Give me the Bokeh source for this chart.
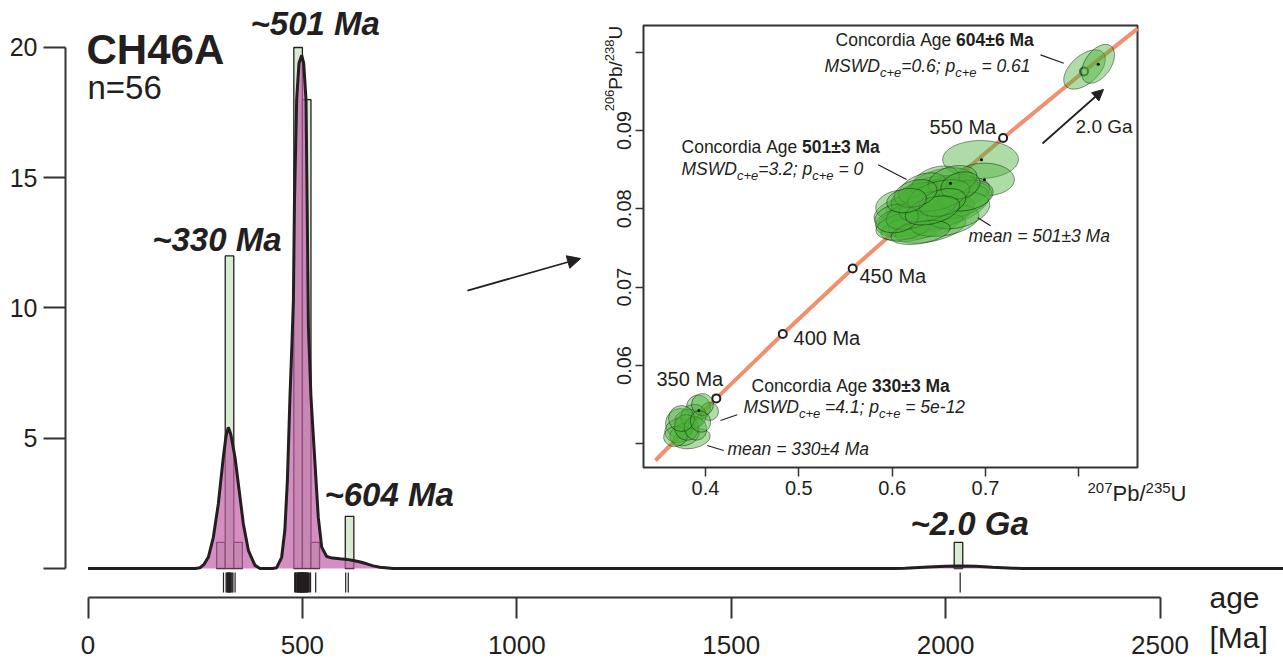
from bokeh.plotting import figure
from bokeh.models import Range1d, LinearAxis, FixedTicker, Arrow, NormalHead
from bokeh.core.properties import value
from bokeh.embed import file_html
from bokeh.resources import INLINE

# ---------------- data: detrital zircon ages (Ma) ----------------
ages = [316,
        322, 324, 325, 327, 328, 329, 330, 331, 332, 334, 336, 338,
        343,
        482, 484, 485, 487, 488, 489, 490, 491, 492, 493, 494, 495, 495, 496, 497, 497, 498, 498, 499, 499,
        500, 501, 501, 502, 503, 503, 504, 505, 506, 507, 508, 509, 510, 511, 512, 514, 516, 519,
        531,
        601, 607,
        2034]
hist_left = [300, 320, 340, 480, 500, 520, 600, 2020]
hist_count = [1, 12, 1, 20, 18, 1, 2, 1]
bin_width = 20

kde_age = [0, 250, 261, 270, 280.6, 292.3, 303.9, 315.6, 322, 327.2, 333, 342.8, 354.5, 362.3, 374.1, 389.5, 401,
           430, 440, 451.6, 459, 465, 471, 476, 479, 481.5, 486.6, 492, 498.4, 503, 508.4, 511, 514, 520, 529.4,
           537, 545, 556.6, 570, 587.7, 604, 618.7, 635, 650, 665, 681, 712,
           1880, 1905, 1960, 2000, 2033, 2070, 2110, 2157, 2180, 2790]
kde_val = [0, 0, 0.03, 0.15, 0.43, 1.2, 2.48, 4.27, 5.1, 5.42, 5.15, 4.27, 2.74, 1.71, 0.69, 0.12, 0,
           0, 0.03, 0.43, 1.46, 3.38, 6.58, 8.8, 10.3, 14.1, 18.0, 19.4, 19.7, 19.4, 18.0, 14.1, 9.3, 6.58, 4.02,
           1.97, 0.82, 0.46, 0.40, 0.37, 0.35, 0.31, 0.25, 0.18, 0.10, 0.05, 0,
           0, 0.01, 0.06, 0.09, 0.10, 0.09, 0.05, 0.01, 0, 0]

age_ticks = [0, 500, 1000, 1500, 2000, 2500]
count_ticks = [0, 5, 10, 15, 20]

peak_text = ["~330 Ma", "~501 Ma", "~604 Ma", "~2.0 Ga"]
peak_age = [149.7, 379.0, 551.5, 1918.1]
peak_count = [12.17, 20.46, 2.38, 1.27]

# ---------------- data: concordia inset ----------------
conc_x = [0.3464, 0.4116, 0.4828, 0.5577, 0.6378, 0.7189, 0.8056, 0.8629]
conc_y = [0.04787, 0.05580, 0.06402, 0.07239, 0.08082, 0.08905, 0.09754, 0.10300]
mark_age = [350, 400, 450, 500, 550, 600]
mark_x = [0.4116, 0.4828, 0.5577, 0.6378, 0.7189, 0.8056]
mark_y = [0.05580, 0.06402, 0.07239, 0.08082, 0.08905, 0.09754]
mark_label = ["350 Ma", "400 Ma", "450 Ma", "", "550 Ma", ""]
mark_lab_x = [0.3475, 0.4943, 0.5650, 0, 0.6400, 0]
mark_lab_y = [0.05732, 0.06255, 0.07047, 0, 0.08949, 0]

# error ellipses: centre (207Pb/235U, 206Pb/238U), full width / height, tilt (deg)
ell_x = [0.3925, 0.4043, 0.3732, 0.3818, 0.3850, 0.3711, 0.3775, 0.3871, 0.3968, 0.3679, 0.3796, 0.3893, 0.3743, 0.3946,
         0.6947, 0.6989, 0.6636, 0.6518, 0.6411, 0.6357, 0.6250, 0.6464, 0.6304, 0.6143, 0.6068, 0.6572, 0.6411,
         0.6218, 0.6089, 0.6357, 0.6518, 0.6679, 0.6604, 0.6464, 0.6218, 0.6411, 0.6282, 0.6122, 0.6325, 0.6561,
         0.6711, 0.6786, 0.6197, 0.6389, 0.6647, 0.6497, 0.6304, 0.6047, 0.6732, 0.6539, 0.6432, 0.6250, 0.6154,
         0.8061, 0.8206]
ell_y = [0.05464, 0.05413, 0.05260, 0.05298, 0.05068, 0.05170, 0.05119, 0.05349, 0.05502, 0.05094, 0.05209, 0.05196, 0.05323, 0.05285,
         0.08630, 0.08374, 0.08183, 0.08285, 0.08209, 0.08106, 0.08043, 0.08132, 0.07979, 0.07953, 0.08043, 0.08043, 0.07915,
         0.07851, 0.07826, 0.07826, 0.07953, 0.08106, 0.08234, 0.08336, 0.07749, 0.07749, 0.08132, 0.07774, 0.08260, 0.07851,
         0.07979, 0.08170, 0.07915, 0.08030, 0.08362, 0.08170, 0.07698, 0.07877, 0.08298, 0.08081, 0.07979, 0.08196, 0.08106,
         0.09779, 0.09851]
ell_w = [0.0257, 0.0193, 0.0321, 0.0300, 0.0407, 0.0300, 0.0321, 0.0279, 0.0236, 0.0257, 0.0257, 0.0236, 0.0279, 0.0214,
         0.0814, 0.0643, 0.0836, 0.0750, 0.0707, 0.0771, 0.0643, 0.0857, 0.0750, 0.0686, 0.0493, 0.0964, 0.0857,
         0.0750, 0.0536, 0.0814, 0.0750, 0.0793, 0.0643, 0.0536, 0.0686, 0.0771, 0.0600, 0.0600, 0.0536, 0.0750,
         0.0686, 0.0600, 0.0536, 0.0643, 0.0536, 0.0686, 0.0643, 0.0471, 0.0429, 0.0514, 0.0600, 0.0471, 0.0429,
         0.0536, 0.0471]
ell_h = [0.00319, 0.00230, 0.00383, 0.00281, 0.00255, 0.00306, 0.00281, 0.00306, 0.00281, 0.00255, 0.00332, 0.00306, 0.00332, 0.00281,
         0.00485, 0.00421, 0.00409, 0.00434, 0.00383, 0.00434, 0.00383, 0.00460, 0.00383, 0.00409, 0.00383, 0.00511, 0.00409,
         0.00383, 0.00357, 0.00383, 0.00383, 0.00434, 0.00383, 0.00383, 0.00306, 0.00332, 0.00383, 0.00332, 0.00357, 0.00383,
         0.00434, 0.00383, 0.00332, 0.00357, 0.00357, 0.00357, 0.00281, 0.00357, 0.00332, 0.00332, 0.00332, 0.00332, 0.00306,
         0.00357, 0.00332]
ell_angle = [20, 0, 0, 10, 10, 20, 15, 30, 30, 10, 20, 30, 20, 30,
             0, 0, 12, 15, 15, 18, 15, 18, 15, 12, 10, 15, 12,
             10, 10, 12, 15, 15, 15, 20, 10, 12, 15, 10, 20, 10,
             15, 10, 15, 15, 15, 15, 10, 10, 15, 15, 15, 15, 10,
             42, 55]
dot_x = [0.6625, 0.6957, 0.6989, 0.8208, 0.3928]
dot_y = [0.08327, 0.08626, 0.08371, 0.09846, 0.05426]

ratio_x_ticks = [0.4, 0.5, 0.6, 0.7, 0.8]
ratio_y_ticks = [0.05, 0.06, 0.07, 0.08, 0.09, 0.10]
box_left, box_right, box_bottom, box_top = 0.33357, 0.86288, 0.04698, 0.10340

# ---------------- styling ----------------
FONT = "Liberation Sans"
INK = "#231f20"
AXC = "#333333"
BAR_FILL = "#d8ecd2"
KDE_FILL = "#c25ea6"
ELL_FILL = "#4cb23a"
CONC = "#f0906e"
PX_MAIN = 26.05      # screen px per count unit (used only to nudge text baselines)
PX_INSET_X = 933.3   # screen px per 207Pb/235U unit
PX_INSET = 7833.0    # screen px per 206Pb/238U unit
LIFT = 0.37          # baseline correction, in em

p = figure(width=1283, height=659,
           x_range=Range1d(-204.06, 2788.0), y_range=Range1d(-3.4933, 21.8042),
           output_backend="svg", toolbar_location=None,
           x_axis_location=None, y_axis_location=None,
           min_border=0, min_border_left=0, min_border_right=0, min_border_top=0, min_border_bottom=0,
           outline_line_color=None, background_fill_color="white", border_fill_color="white")
p.grid.visible = False
p.extra_x_ranges = {"cx": Range1d(-0.35538, 1.01931)}
p.extra_y_ranges = {"cy": Range1d(0.022465, 0.106596)}

def style_axis(ax, size, tick_out, standoff, line=True):
    ax.major_tick_out = tick_out
    ax.major_tick_in = 0
    ax.minor_tick_out = 0
    ax.minor_tick_in = 0
    ax.axis_line_color = AXC if line else None
    ax.axis_line_width = 2
    ax.major_tick_line_color = AXC
    ax.major_tick_line_width = 2 if line else 1.5
    ax.major_label_text_font = FONT
    ax.major_label_text_font_size = size
    ax.major_label_text_color = INK
    ax.major_label_standoff = standoff

# main axes
xa = LinearAxis(fixed_location=-1.113, bounds=(0, 2500), ticker=FixedTicker(ticks=age_ticks))
style_axis(xa, "26px", 21, 18)
p.add_layout(xa, "below")
ya = LinearAxis(fixed_location=-52.5, bounds=(0, 20), ticker=FixedTicker(ticks=count_ticks),
                major_label_overrides={0: ""})
style_axis(ya, "25px", 22, 6)
p.add_layout(ya, "left")

# histogram, KDE and rug
p.quad(left=hist_left, right=[v + bin_width for v in hist_left], bottom=0, top=hist_count,
       fill_color=BAR_FILL, line_color=INK, line_width=1.3)
p.varea(x=kde_age, y1=[0] * len(kde_age), y2=kde_val, fill_color=KDE_FILL, fill_alpha=0.7)
p.line(kde_age, kde_val, line_color=INK, line_width=3)
p.segment(x0=ages, y0=-0.15, x1=ages, y1=-0.92, line_color=INK, line_width=1.2)

def txt(x, y, s, size, style="normal", align="left", rng=False, angle=0, baseline="alphabetic", off=0, lift=True):
    kw = {}
    if rng:
        kw = dict(x_range_name="cx", y_range_name="cy")
    if lift:
        y = y + LIFT * size / (PX_INSET if rng else PX_MAIN)
    p.text(x=[x], y=[y], text=[s], text_font=value(FONT), text_font_size=f"{size}px",
           text_font_style=style, text_align=align, text_baseline=baseline, text_color=INK,
           angle=angle, angle_units="deg", x_offset=off, **kw)

for t, a, c in zip(peak_text, peak_age, peak_count):
    txt(a, c, t, 33, "bold italic")
txt(-3.5, 19.31, "CH46A", 42, "bold")
txt(-1.2, 18.0, "n=56", 33)
txt(2615.4, -1.536, "age", 30)
txt(2615.4, -3.071, "[Ma]", 30)

p.add_layout(Arrow(end=NormalHead(size=13, fill_color=INK, line_color=INK),
                   x_start=885.0, y_start=10.67, x_end=1148.6, y_end=11.9,
                   line_color=INK, line_width=1.8))

# ---------------- concordia inset ----------------
R = dict(x_range_name="cx", y_range_name="cy")
p.quad(left=box_left, right=box_right, bottom=box_bottom, top=box_top,
       fill_color=None, line_color=AXC, line_width=2, **R)
ix = LinearAxis(fixed_location=box_bottom, ticker=FixedTicker(ticks=ratio_x_ticks),
                major_label_overrides={0.8: ""}, **R)
style_axis(ix, "20px", 9, 5, line=False)
p.add_layout(ix, "below")
iy = LinearAxis(fixed_location=box_left, ticker=FixedTicker(ticks=ratio_y_ticks),
                major_label_overrides={0.05: "", 0.1: ""}, major_label_orientation="vertical", **R)
style_axis(iy, "20px", 8, 4, line=False)
p.add_layout(iy, "left")

p.line(conc_x, conc_y, line_color=CONC, line_width=4, **R)
p.scatter(mark_x, mark_y, size=8, marker="circle", fill_color="white", line_color=INK, line_width=2, **R)
p.ellipse(x=ell_x, y=ell_y, width=ell_w, height=ell_h, angle=ell_angle, angle_units="deg",
          fill_color=ELL_FILL, fill_alpha=0.45, line_color="black", line_width=0.6, line_alpha=0.7, **R)
p.scatter(dot_x, dot_y, size=3, marker="circle", fill_color="black", line_color=None, **R)

for lab, lx, ly in zip(mark_label, mark_lab_x, mark_lab_y):
    if lab:
        txt(lx, ly, lab, 20, rng=True)
txt(0.7965, 0.08962, "2.0 Ga", 19, rng=True)

p.add_layout(Arrow(end=NormalHead(size=11, fill_color=INK, line_color=INK),
                   x_start=0.7611, y_start=0.08834, x_end=0.8264, y_end=0.09523,
                   line_color=INK, line_width=1.8, **R))

# leader lines
lead_x0 = [0.5850, 0.7590, 0.6918, 0.4161, 0.4018]
lead_y0 = [0.08562, 0.09966, 0.07886, 0.05298, 0.04979]
lead_x1 = [0.6154, 0.7839, 0.7054, 0.4340, 0.4196]
lead_y1 = [0.08374, 0.09859, 0.07783, 0.05371, 0.04915]
p.segment(x0=lead_x1, y0=lead_y1, x1=lead_x0, y1=lead_y0, line_color=INK, line_width=1.2, **R)

NB = "\u00a0"
WID = {' ': 278, NB: 278, '+': 584, '.': 278, ';': 278, '=': 584, '\u00b1': 584, '-': 333, '/': 278,
       'A': 667, 'C': 722, 'D': 722, 'G': 778, 'M': 833, 'P': 667, 'S': 667, 'U': 722, 'W': 944,
       'a': 556, 'b': 556, 'c': 500, 'd': 556, 'e': 556, 'g': 556, 'i': 222, 'n': 556, 'o': 556,
       'p': 556, 'r': 333, 'm': 833}

def tw(s, size):
    return sum(WID.get(ch, 556) for ch in s) * size / 1000.0

def rich(x, y, pieces):
    """pieces: (text, style, size, shift_px) ; shift_px > 0 raises the piece"""
    off = 0.0
    for s, style, size, shift in pieces:
        txt(x, y + shift / PX_INSET, s, size, style, rng=True, off=off)
        off += tw(s, size)

def rich_up(xc, yc, pieces):
    """vertical text read bottom-to-top, centred on (xc, yc); shift_px > 0 moves left (raised)"""
    total = sum(tw(s, size) for s, _, size, _ in pieces)
    ycur = yc - total / 2 / PX_INSET
    for s, style, size, shift in pieces:
        txt(xc - shift / PX_INSET_X, ycur, s, size, style, rng=True, angle=90, baseline="middle", lift=False)
        ycur += tw(s, size) / PX_INSET

F, S = 17.5, 13
def concordia_block(x, y, age, mswd_mid, p_end, mean_xy=None, mean_txt=None):
    rich(x[0], y[0], [("Concordia" + NB + "Age" + NB, "normal", F, 0), (age, "bold", F, 0)])
    rich(x[1], y[1], [("MSWD", "italic", F, 0), ("c+e", "italic", S, -5),
                      (mswd_mid, "italic", F, 0), ("c+e", "italic", S, -5),
                      (p_end, "italic", F, 0)])
    if mean_txt:
        txt(mean_xy[0], mean_xy[1], mean_txt, F, "italic", rng=True)

concordia_block((0.5393, 0.5275), (0.10072, 0.09744), "604\u00b16" + NB + "Ma", "=0.6;" + NB + "p", NB + "=" + NB + "0.61")
concordia_block((0.3743, 0.3743), (0.0871, 0.08426), "501\u00b13" + NB + "Ma", "=3.2;" + NB + "p", NB + "=" + NB + "0",
                (0.6818, 0.07570), "mean = 501\u00b13 Ma")
concordia_block((0.4493, 0.4407), (0.05659, 0.05387), "330\u00b13" + NB + "Ma", NB + "=4.1;" + NB + "p", NB + "=" + NB + "5e-12",
                (0.4236, 0.04851), "mean = 330\u00b14 Ma")

# axis titles of the inset (isotope ratios with superscript mass numbers)
rich(0.8093, 0.04264, [("207", "normal", 15, 8), ("Pb/", "normal", 22, 0), ("235", "normal", 15, 8), ("U", "normal", 22, 0)])
rich_up(0.30356, 0.09791, [("206", "normal", 13, 6), ("Pb/", "normal", 19, 0), ("238", "normal", 13, 6), ("U", "normal", 19, 0)])

open("out.html", "w").write(file_html(p, INLINE))
